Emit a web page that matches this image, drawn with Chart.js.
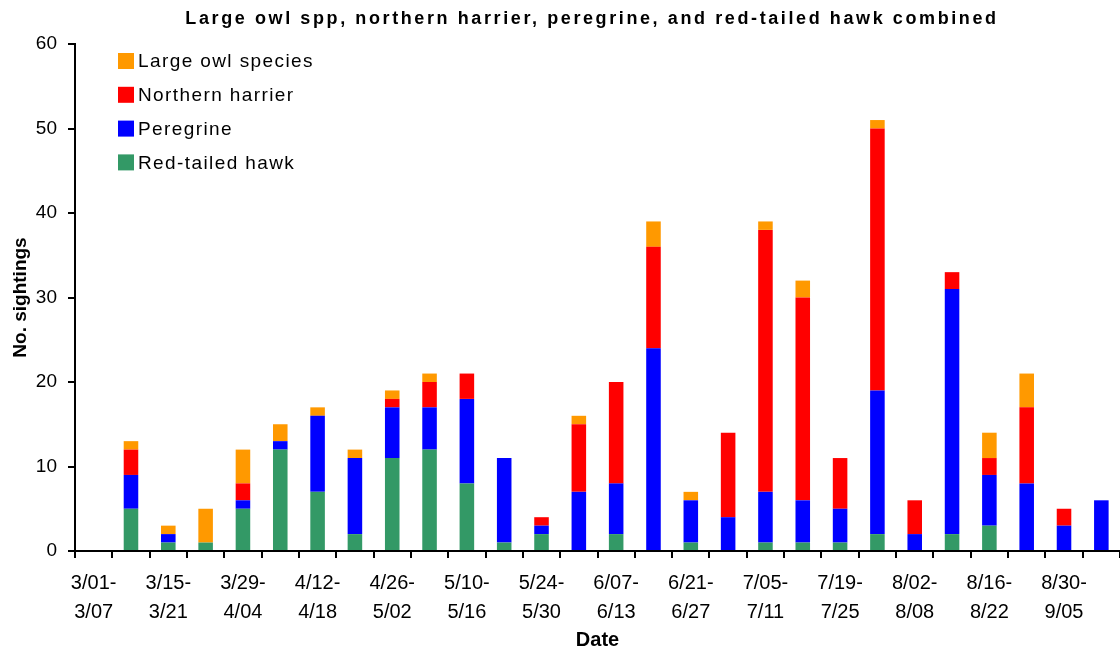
<!DOCTYPE html>
<html>
<head>
<meta charset="utf-8">
<script src="https://cdn.jsdelivr.net/npm/chart.js@4.4.1/dist/chart.umd.min.js"></script>
<style>
  html, body { margin: 0; padding: 0; background: #fff; }
  #wrap { width: 1120px; height: 652px; position: relative; }
</style>
</head>
<body>
<div id="wrap"><canvas id="c" width="1120" height="652"></canvas></div>
<script>
const chartTitle = 'Large owl spp, northern harrier, peregrine, and red-tailed hawk combined';
const categories = ['3/01-3/07','3/08-3/14','3/15-3/21','3/22-3/28','3/29-4/04','4/05-4/11','4/12-4/18','4/19-4/25',
  '4/26-5/02','5/03-5/09','5/10-5/16','5/17-5/23','5/24-5/30','5/31-6/06','6/07-6/13','6/14-6/20','6/21-6/27',
  '6/28-7/04','7/05-7/11','7/12-7/18','7/19-7/25','7/26-8/01','8/02-8/08','8/09-8/15','8/16-8/22','8/23-8/29',
  '8/30-9/05','9/06-9/12'];
const redTailedHawk   = [0,5,1,1,5,12,7,2,11,12,8,1,2,0,2,0,1,0,1,1,1,2,0,2,3,0,0,0];
const peregrine       = [0,4,1,0,1,1,9,9,6,5,10,10,1,7,6,24,5,4,6,5,4,17,2,29,6,8,3,6];
const northernHarrier = [0,3,0,0,2,0,0,0,1,3,3,0,1,8,12,12,0,10,31,24,6,31,4,2,2,9,2,0];
const largeOwl        = [0,1,1,4,4,2,1,1,1,1,0,0,0,1,0,3,1,0,1,2,0,1,0,0,3,4,0,0];
const yTicks = [0,10,20,30,40,50,60];

const FONT = "'Liberation Sans', Arial, sans-serif";

const titlePlugin = {
  id: 'customTitle',
  afterDraw(chart) {
    const ctx = chart.ctx;
    ctx.save();
    ctx.font = 'bold 18px ' + FONT;
    if ('letterSpacing' in ctx) ctx.letterSpacing = '2.6px';
    ctx.fillStyle = '#000';
    ctx.textAlign = 'center';
    ctx.textBaseline = 'middle';
    ctx.fillText(chartTitle, 592, 19);
    ctx.restore();
  }
};

const legendPlugin = {
  id: 'insideLegend',
  afterDatasetsDraw(chart) {
    const ctx = chart.ctx;
    const ds = chart.data.datasets.slice().reverse();
    ctx.save();
    ctx.font = '19px ' + FONT;
    if ('letterSpacing' in ctx) ctx.letterSpacing = '1.4px';
    ctx.textAlign = 'left';
    ctx.textBaseline = 'middle';
    ds.forEach((d, i) => {
      const cy = 61 + i * 33.8;
      ctx.fillStyle = d.backgroundColor;
      ctx.fillRect(118, cy - 8, 16, 16);
      ctx.fillStyle = '#000';
      ctx.fillText(d.label, 138, cy + 1);
    });
    ctx.restore();
  }
};

new Chart(document.getElementById('c'), {
  type: 'bar',
  data: {
    labels: categories,
    datasets: [
      { label: 'Red-tailed hawk', data: redTailedHawk, backgroundColor: '#339966' },
      { label: 'Peregrine', data: peregrine, backgroundColor: '#0000FF' },
      { label: 'Northern harrier', data: northernHarrier, backgroundColor: '#FF0000' },
      { label: 'Large owl species', data: largeOwl, backgroundColor: '#FF9900' }
    ]
  },
  options: {
    responsive: false,
    animation: false,
    devicePixelRatio: 1,
    layout: { padding: { top: 44, right: 0, left: 0, bottom: 0 } },
    datasets: { bar: { categoryPercentage: 1.0, barPercentage: 0.39, borderWidth: 0 } },
    plugins: {
      legend: { display: false },
      title: { display: false },
      tooltip: { enabled: false }
    },
    scales: {
      x: {
        stacked: true,
        offset: true,
        afterFit(scale) { scale.height = 101; },
        grid: { display: true, offset: true, drawOnChartArea: false, drawTicks: true, tickLength: 7, color: '#000', lineWidth: 2 },
        border: { display: true, color: '#000', width: 2 },
        ticks: {
          autoSkip: false, maxRotation: 0, minRotation: 0, padding: 11, color: '#000',
          font: { family: FONT, size: 20, lineHeight: 1.45 },
          callback(v, i) {
            const s = categories[i];
            return i % 2 === 0 ? [s.slice(0, 5), s.slice(5)] : '';
          }
        },
        title: { display: true, text: 'Date', color: '#000', font: { family: FONT, size: 20, weight: 'bold' }, padding: { top: 0, bottom: 0 } }
      },
      y: {
        stacked: true,
        min: 0, max: 60,
        afterFit(scale) { scale.width = 75; },
        afterBuildTicks(scale) { scale.ticks = yTicks.map(v => ({ value: v })); },
        grid: { display: true, drawOnChartArea: false, drawTicks: true, tickLength: 7, color: '#000', lineWidth: 2 },
        border: { display: true, color: '#000', width: 2 },
        ticks: { padding: 11, color: '#000', font: { family: FONT, size: 19 } },
        title: { display: true, text: 'No. sightings', color: '#000', font: { family: FONT, size: 19, weight: 'bold' }, padding: { top: 9, bottom: 0 } }
      }
    }
  },
  plugins: [titlePlugin, legendPlugin]
});
</script>
</body>
</html>
